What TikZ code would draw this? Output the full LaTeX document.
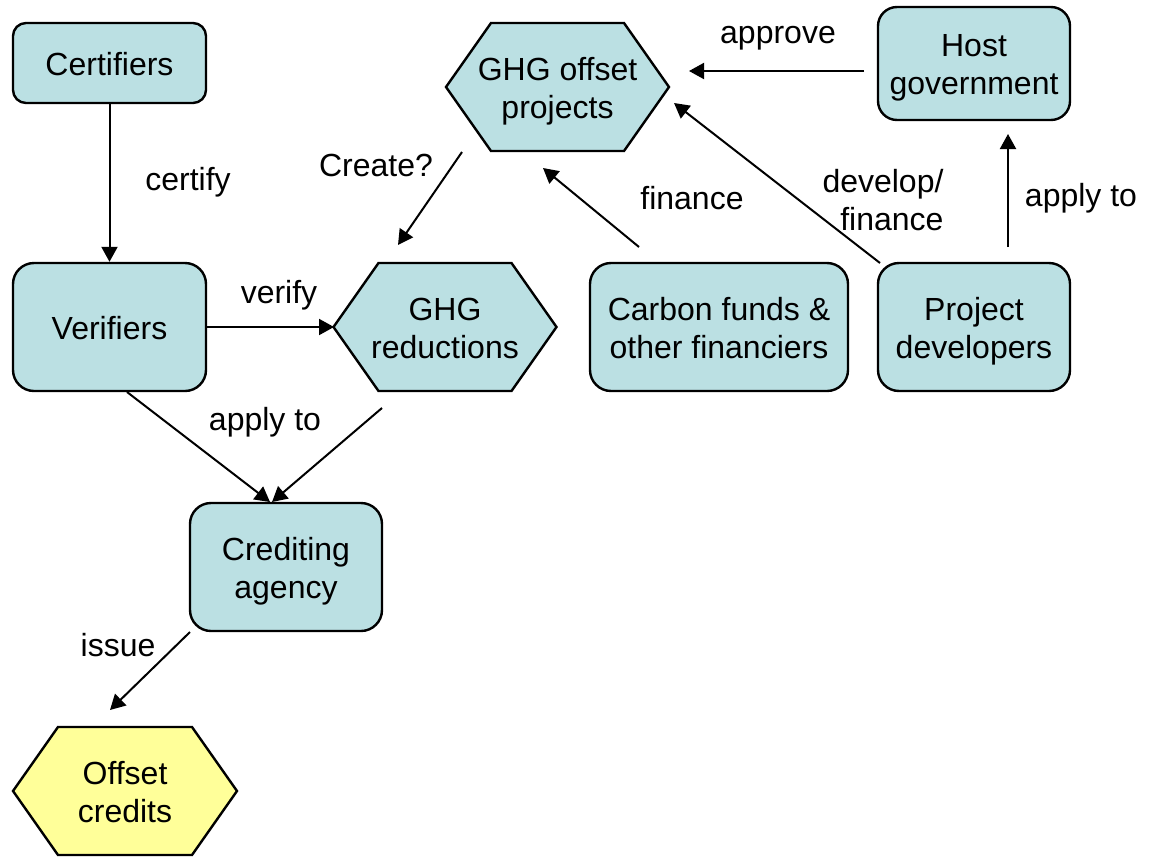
\documentclass[tikz,border=0pt]{standalone}
\usepackage{fontspec}
\setmainfont{Liberation Sans}
\usetikzlibrary{arrows.meta,calc}
\definecolor{boxfill}{RGB}{187,224,227}
\definecolor{hexyellow}{RGB}{255,255,153}
\newcommand{\mytopst}{\rule{0pt}{31.3pt}}
\newcommand{\mybotst}{\rule[-7pt]{0pt}{7pt}}
\begin{document}
\begin{tikzpicture}[x=1pt,y=-1pt,
  txt/.style={font=\fontsize{32}{38.3}\selectfont, align=center, inner sep=0pt},
  box/.style={txt, draw=black, line width=2.4pt, fill=boxfill, rounded corners=21pt},
  hexshape/.style={draw=black, line width=2.4pt, line join=miter},
  conn/.style={line width=2pt, -{Triangle[length=15pt,width=16pt]}},
  lbl/.style={txt}
]
\fill[white] (0,0) rectangle (1154,857);
\useasboundingbox (0,0) rectangle (1154,857);

% boxes
\node[box, rounded corners=13pt, minimum width=193pt, minimum height=80pt] (cert) at (109.5,63) {\mytopst Certifiers\mybotst};
\node[box, minimum width=193pt, minimum height=128pt] (ver) at (109.5,327) {\mytopst Verifiers\mybotst};
\node[box, rounded corners=19pt, minimum width=192pt, minimum height=113pt] (host) at (974,63.5) {\mytopst Host\\government\mybotst};
\node[box, minimum width=258pt, minimum height=128pt] (fund) at (719,327) {\mytopst Carbon funds \&\\other financiers\mybotst};
\node[box, minimum width=192pt, minimum height=128pt] (dev) at (974,327) {\mytopst Project\\developers\mybotst};
\node[box, minimum width=192pt, minimum height=128pt] (cred) at (286,567) {\mytopst Crediting\\agency\mybotst};

% hexagons
\coordinate (projc) at (557.5,87);
\draw[hexshape, fill=boxfill] ($(projc)+(-111.5,0)$) -- ++(45,-64) -- ++(133,0) -- ++(45,64) -- ++(-45,64) -- ++(-133,0) -- cycle;
\node[txt] (proj) at (projc) {\mytopst GHG offset\\projects\mybotst};

\coordinate (redc) at (445,327);
\draw[hexshape, fill=boxfill] ($(redc)+(-111.5,0)$) -- ++(45,-64) -- ++(133,0) -- ++(45,64) -- ++(-45,64) -- ++(-133,0) -- cycle;
\node[txt] (red) at (redc) {\mytopst GHG\\reductions\mybotst};

\coordinate (offc) at (125,791);
\draw[hexshape, fill=hexyellow] ($(offc)+(-112,0)$) -- ++(45,-64) -- ++(134,0) -- ++(45,64) -- ++(-45,64) -- ++(-134,0) -- cycle;
\node[txt] (off) at (offc) {\mytopst Offset\\credits\mybotst};

% connectors
\draw[conn] (cert) -- (ver);
\draw[conn] (ver.east) -- ($(red)+(-111,0)$);
\draw[conn] ($(ver)+(17.5,65)$) -- ($(cred)+(-16,-65)$);
\draw[conn] ($(red)+(-63,81)$) -- ($(cred)+(-14,-65)$);
\draw[conn] ($(proj)+(-95.5,65)$) -- ($(red)+(-47,-82)$);
\draw[conn] ($(fund)+(-80,-80)$) -- ($(proj)+(-14.5,81)$);
\draw[conn] ($(dev)+(-94,-64)$) -- ($(proj)+(116.5,16)$);
\draw[conn] ($(host)+(-110,7.5)$) -- ($(proj)+(131.5,-16)$);
\draw[conn] ($(dev)+(34,-80)$) -- ($(host)+(34,70.5)$);
\draw[conn] ($(cred)+(-96,65)$) -- ($(off)+(-15,-81)$);

% labels
\node[lbl] (lcert) at (188,182) {certify};
\node[lbl] (lver) at (279,295) {verify};
\node[lbl] (lapp1) at (265,422) {apply to};
\node[lbl] (lcre) at (376,165) {Create?};
\node[lbl] (lfin) at (692,198) {finance};
\node[lbl, align=right] (ldev) at (883,200) {develop/\\finance};
\node[lbl] (lappr) at (778,38) {approve};
\node[lbl] (lapp2) at (1081,198) {apply to};
\node[lbl] (liss) at (118,645) {issue};
\end{tikzpicture}
\end{document}
